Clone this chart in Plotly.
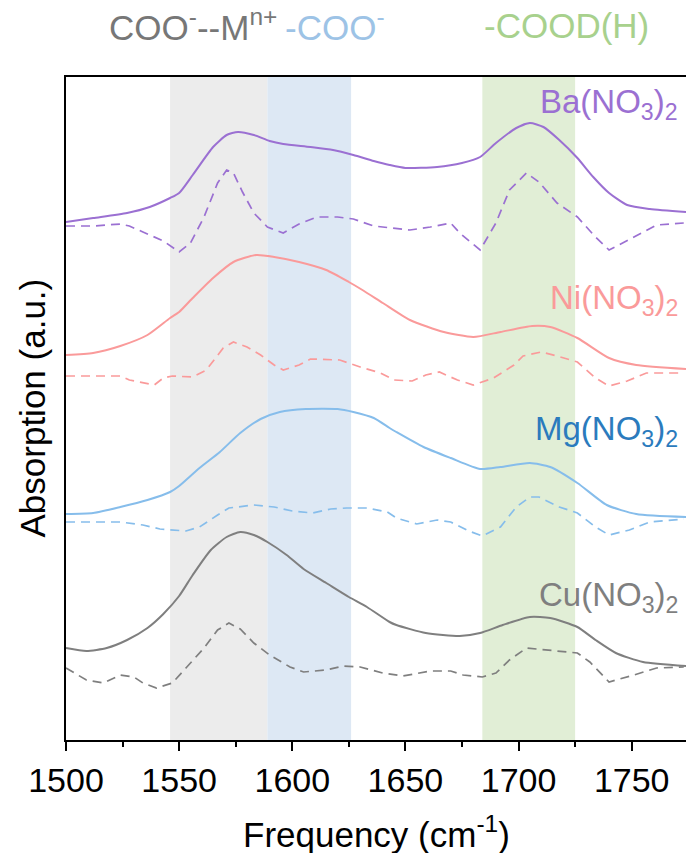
import plotly.graph_objects as go

# ---------------- data (frequency in cm^-1, absorption in a.u., offset-stacked) ----------------
ba_solid_x = [1500, 1512, 1527, 1537, 1546, 1550, 1556, 1565, 1571, 1576, 1583, 1590, 1596, 1608, 1618,
              1627, 1636, 1643, 1650, 1664, 1675, 1683, 1690, 1699, 1705, 1711, 1718, 1726, 1733, 1740,
              1748, 1758, 1774]
ba_solid_y = [5.18, 5.22, 5.27, 5.33, 5.42, 5.47, 5.65, 5.93, 6.05, 6.08, 6.05, 5.99, 5.96, 5.93, 5.90,
              5.85, 5.79, 5.75, 5.72, 5.73, 5.77, 5.83, 5.97, 6.12, 6.17, 6.13, 6.00, 5.82, 5.63, 5.47,
              5.35, 5.31, 5.28]
ba_dash_x = [1500, 1512, 1524, 1528, 1534, 1543, 1550, 1555, 1561, 1567, 1571, 1574, 1578, 1583, 1589,
             1596, 1603, 1611, 1620, 1627, 1636, 1643, 1652, 1661, 1670, 1674, 1683, 1690, 1696, 1703.5,
             1709, 1717, 1726, 1734, 1740, 1751, 1761, 1773]
ba_dash_y = [5.14, 5.14, 5.16, 5.14, 5.08, 4.99, 4.88, 4.97, 5.23, 5.57, 5.70, 5.67, 5.48, 5.27, 5.13,
             5.07, 5.16, 5.23, 5.23, 5.21, 5.14, 5.12, 5.10, 5.13, 5.17, 5.07, 4.90, 5.17, 5.50, 5.67,
             5.58, 5.37, 5.23, 5.03, 4.90, 5.03, 5.15, 5.17]

ni_solid_x = [1500, 1512, 1524, 1536, 1546, 1550, 1556, 1565, 1574, 1584, 1592, 1603, 1615, 1625, 1631,
              1640, 1652, 1667, 1680, 1692, 1706, 1714, 1726, 1740, 1752, 1774]
ni_solid_y = [3.85, 3.87, 3.94, 4.05, 4.22, 4.28, 4.42, 4.62, 4.78, 4.85, 4.83, 4.78, 4.70, 4.58, 4.50,
              4.37, 4.20, 4.08, 4.03, 4.08, 4.14, 4.13, 4.02, 3.82, 3.75, 3.71]
ni_dash_x = [1500, 1512, 1524, 1528, 1539, 1543, 1547, 1556, 1562, 1569.5, 1574, 1580, 1586, 1592, 1596,
             1603, 1608, 1621, 1630, 1639, 1645, 1653, 1659, 1665, 1673, 1680, 1689, 1698, 1702, 1710,
             1717, 1726, 1734, 1740, 1748, 1756.5, 1773]
ni_dash_y = [3.64, 3.64, 3.64, 3.60, 3.55, 3.62, 3.64, 3.63, 3.70, 3.92, 3.98, 3.93, 3.85, 3.75, 3.70,
             3.75, 3.81, 3.80, 3.73, 3.67, 3.60, 3.59, 3.65, 3.68, 3.60, 3.55, 3.62, 3.75, 3.84, 3.88,
             3.84, 3.78, 3.62, 3.54, 3.59, 3.67, 3.67]

mg_solid_x = [1500, 1512, 1524, 1536, 1546, 1550, 1559, 1568, 1577, 1586, 1594.5, 1606, 1620, 1627, 1636,
              1643, 1646, 1658, 1670, 1683, 1692, 1705, 1714, 1726, 1739, 1752, 1774]
mg_solid_y = [2.26, 2.27, 2.33, 2.40, 2.48, 2.54, 2.72, 2.88, 3.07, 3.21, 3.28, 3.31, 3.31, 3.28, 3.22,
              3.12, 3.08, 2.93, 2.82, 2.71, 2.73, 2.77, 2.73, 2.57, 2.35, 2.26, 2.23]
mg_dash_x = [1500, 1512, 1524, 1534, 1541.5, 1553, 1559, 1567, 1572, 1583, 1592, 1600, 1609, 1617, 1624,
             1633, 1642, 1646, 1655, 1664, 1670, 1678, 1684, 1692, 1699, 1705, 1709, 1718, 1726, 1734,
             1740, 1749, 1758, 1773]
mg_dash_y = [2.18, 2.18, 2.18, 2.15, 2.11, 2.09, 2.13, 2.25, 2.32, 2.35, 2.33, 2.29, 2.27, 2.31, 2.32,
             2.32, 2.28, 2.22, 2.16, 2.20, 2.18, 2.09, 2.04, 2.13, 2.33, 2.43, 2.43, 2.33, 2.27, 2.13,
             2.05, 2.10, 2.18, 2.21]

cu_solid_x = [1500, 1509, 1518, 1527, 1536, 1543, 1550, 1556, 1564, 1571, 1577, 1583, 1589, 1597.5, 1605,
              1615, 1625, 1633, 1643, 1646, 1659, 1674, 1683, 1693, 1705, 1714, 1726, 1734, 1743, 1755,
              1774]
cu_solid_y = [0.92, 0.89, 0.92, 1.00, 1.12, 1.26, 1.44, 1.65, 1.90, 2.03, 2.08, 2.05, 1.98, 1.85, 1.71,
              1.57, 1.43, 1.33, 1.18, 1.15, 1.07, 1.04, 1.07, 1.15, 1.23, 1.22, 1.13, 1.00, 0.87, 0.78,
              0.74]
cu_dash_x = [1500, 1509, 1516.5, 1524, 1530, 1534, 1540, 1547, 1553, 1561, 1567, 1572, 1577, 1583, 1590,
             1599, 1605, 1615, 1622.5, 1630, 1640, 1649, 1661, 1670, 1675.5, 1684, 1690, 1696, 1703.5,
             1714, 1726, 1731.5, 1740, 1751, 1761, 1773]
cu_dash_y = [0.72, 0.60, 0.57, 0.65, 0.63, 0.57, 0.52, 0.57, 0.72, 0.92, 1.10, 1.17, 1.11, 0.97, 0.85,
             0.73, 0.68, 0.70, 0.74, 0.73, 0.67, 0.64, 0.69, 0.69, 0.65, 0.63, 0.67, 0.80, 0.92,
             0.90, 0.87, 0.78, 0.58, 0.65, 0.72, 0.73]

band_starts = [1546, 1589, 1684]
band_ends = [1589, 1626, 1725]
band_colors = ["#ECECEC", "#DDE8F4", "#E1EED6"]

x_ticks = [1500, 1550, 1600, 1650, 1700, 1750]

# ---------------- figure ----------------
FONT = "Arial, 'Liberation Sans', sans-serif"
series = [
    ("Ba(NO<sub>3</sub>)<sub>2</sub>", ba_solid_x, ba_solid_y, ba_dash_x, ba_dash_y, "#9B70D2", "#9B70D2", 6.36),
    ("Ni(NO<sub>3</sub>)<sub>2</sub>", ni_solid_x, ni_solid_y, ni_dash_x, ni_dash_y, "#FA9A9A", "#FA9A9A", 4.40),
    ("Mg(NO<sub>3</sub>)<sub>2</sub>", mg_solid_x, mg_solid_y, mg_dash_x, mg_dash_y, "#86BDEB", "#2B7BBD", 3.09),
    ("Cu(NO<sub>3</sub>)<sub>2</sub>", cu_solid_x, cu_solid_y, cu_dash_x, cu_dash_y, "#7F7F7F", "#7F7F7F", 1.43),
]

fig = go.Figure()
annotations = []
for name, sx, sy, dx, dy, col, lcol, ly in series:
    fig.add_trace(go.Scatter(x=sx, y=sy, mode="lines",
                             line=dict(color=col, width=2, shape="spline", smoothing=0.6),
                             showlegend=False, hoverinfo="skip"))
    fig.add_trace(go.Scatter(x=dx, y=dy, mode="lines",
                             line=dict(color=col, width=1.7, dash="9px,6px"),
                             showlegend=False, hoverinfo="skip"))
    annotations.append(dict(text=name, xref="paper", x=1, xanchor="right", xshift=-6,
                            yref="y", y=ly, yanchor="middle", showarrow=False,
                            font=dict(family=FONT, size=33, color=lcol)))

shapes = []
for s, e, c in zip(band_starts, band_ends, band_colors):
    shapes.append(dict(type="rect", xref="x", yref="paper", x0=s, x1=e, y0=0, y1=1,
                       fillcolor=c, line=dict(width=0), layer="below"))

# top region labels
annotations += [
    dict(text="COO<sup>-</sup>--M<sup>n+</sup>", xref="x", x=1518, xanchor="left",
         yref="paper", y=1, yanchor="middle", yshift=52, showarrow=False,
         font=dict(family=FONT, size=35, color="#777777")),
    dict(text="-COO<sup>-</sup>", xref="x", x=1596, xanchor="left",
         yref="paper", y=1, yanchor="middle", yshift=52, showarrow=False,
         font=dict(family=FONT, size=35, color="#9DC3E6")),
    dict(text="-COOD(H)", xref="x", x=1684, xanchor="left",
         yref="paper", y=1, yanchor="middle", yshift=52, showarrow=False,
         font=dict(family=FONT, size=35, color="#A8D18D")),
    dict(text="Absorption (a.u.)", xref="paper", x=0, xanchor="center", xshift=-34,
         yref="paper", y=0.5, yanchor="middle", textangle=-90, showarrow=False,
         font=dict(family=FONT, size=35, color="#000000")),
    dict(text="Frequency (cm<sup>-1</sup>)", xref="paper", x=0.5, xanchor="center",
         yref="paper", y=0, yanchor="middle", yshift=-92, showarrow=False,
         font=dict(family=FONT, size=35, color="#000000")),
]

fig.update_layout(
    width=686, height=853,
    margin=dict(l=66, r=0, t=77, b=113),
    paper_bgcolor="white", plot_bgcolor="white",
    shapes=shapes, annotations=annotations,
    font=dict(family=FONT, color="#000000"),
    xaxis=dict(range=[1500, 1774], tickvals=x_ticks, ticks="outside", ticklen=9, tickwidth=2,
               tickcolor="black", showline=True, linecolor="black", linewidth=2, mirror=True,
               showgrid=False, zeroline=False, tickfont=dict(family=FONT, size=34, color="black"),
               minor=dict(dtick=25, tick0=1500, ticks="outside", ticklen=5, tickwidth=2,
                          tickcolor="black", showgrid=False)),
    yaxis=dict(range=[0, 6.63], showticklabels=False, ticks="", showline=True, linecolor="black",
               linewidth=2, mirror=False, showgrid=False, zeroline=False),
)

fig.write_html("out.html")
